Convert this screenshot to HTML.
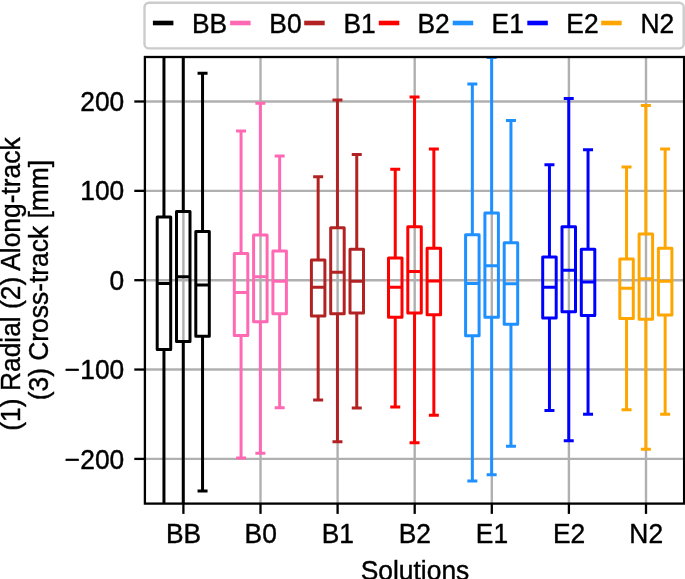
<!DOCTYPE html>
<html lang="en"><head><meta charset="utf-8"><title>Solutions boxplot</title>
<style>html,body{margin:0;padding:0;background:#fff}svg{display:block}text{font-family:"Liberation Sans",Arial,Helvetica,sans-serif;font-size:26.4px;fill:#000;stroke:#000;stroke-width:0.4px;stroke-linejoin:round}</style></head><body>
<svg width="685" height="579" viewBox="0 0 685 579">
<rect width="685" height="579" fill="#fff"/>
<defs><clipPath id="ax"><rect x="144.90" y="57.00" width="539.20" height="446.60"/></clipPath></defs>
<g stroke="#b0b0b0" stroke-width="2.4" fill="none">
<line x1="183.40" y1="57.00" x2="183.40" y2="503.60"/>
<line x1="260.50" y1="57.00" x2="260.50" y2="503.60"/>
<line x1="337.60" y1="57.00" x2="337.60" y2="503.60"/>
<line x1="414.70" y1="57.00" x2="414.70" y2="503.60"/>
<line x1="491.80" y1="57.00" x2="491.80" y2="503.60"/>
<line x1="568.90" y1="57.00" x2="568.90" y2="503.60"/>
<line x1="646.00" y1="57.00" x2="646.00" y2="503.60"/>
<line x1="144.90" y1="101.50" x2="684.10" y2="101.50"/>
<line x1="144.90" y1="190.85" x2="684.10" y2="190.85"/>
<line x1="144.90" y1="280.20" x2="684.10" y2="280.20"/>
<line x1="144.90" y1="369.55" x2="684.10" y2="369.55"/>
<line x1="144.90" y1="458.90" x2="684.10" y2="458.90"/>
</g>
<g clip-path="url(#ax)" fill="none" stroke-width="3.00" stroke-linejoin="round">
<g stroke="#000000">
<path d="M163.95 -40.00V216.90M163.95 349.60V620.00" />
<path stroke-linecap="square" d="M160.45 -40.00H167.45M160.45 620.00H167.45"/>
<rect x="157.20" y="216.90" width="13.50" height="132.70"/>
<path d="M157.20 283.40H170.70"/>
<path d="M183.25 -40.00V211.60M183.25 341.60V620.00" />
<path stroke-linecap="square" d="M179.75 -40.00H186.75M179.75 620.00H186.75"/>
<rect x="176.50" y="211.60" width="13.50" height="130.00"/>
<path d="M176.50 276.80H190.00"/>
<path d="M202.55 73.20V231.40M202.55 336.20V491.00" />
<path stroke-linecap="square" d="M199.05 73.20H206.05M199.05 491.00H206.05"/>
<rect x="195.80" y="231.40" width="13.50" height="104.80"/>
<path d="M195.80 285.00H209.30"/>
</g>
<g stroke="#ff69b4">
<path d="M241.05 131.00V253.60M241.05 335.40V458.00" />
<path stroke-linecap="square" d="M237.55 131.00H244.55M237.55 458.00H244.55"/>
<rect x="234.30" y="253.60" width="13.50" height="81.80"/>
<path d="M234.30 292.60H247.80"/>
<path d="M260.35 103.20V234.90M260.35 321.70V453.20" />
<path stroke-linecap="square" d="M256.85 103.20H263.85M256.85 453.20H263.85"/>
<rect x="253.60" y="234.90" width="13.50" height="86.80"/>
<path d="M253.60 276.80H267.10"/>
<path d="M279.65 156.00V250.90M279.65 313.80V407.80" />
<path stroke-linecap="square" d="M276.15 156.00H283.15M276.15 407.80H283.15"/>
<rect x="272.90" y="250.90" width="13.50" height="62.90"/>
<path d="M272.90 281.30H286.40"/>
</g>
<g stroke="#b22222">
<path d="M318.15 176.80V259.90M318.15 316.00V400.00" />
<path stroke-linecap="square" d="M314.65 176.80H321.65M314.65 400.00H321.65"/>
<rect x="311.40" y="259.90" width="13.50" height="56.10"/>
<path d="M311.40 287.30H324.90"/>
<path d="M337.45 100.00V227.80M337.45 313.80V441.80" />
<path stroke-linecap="square" d="M333.95 100.00H340.95M333.95 441.80H340.95"/>
<rect x="330.70" y="227.80" width="13.50" height="86.00"/>
<path d="M330.70 272.30H344.20"/>
<path d="M356.75 154.40V249.20M356.75 313.00V408.00" />
<path stroke-linecap="square" d="M353.25 154.40H360.25M353.25 408.00H360.25"/>
<rect x="350.00" y="249.20" width="13.50" height="63.80"/>
<path d="M350.00 281.20H363.50"/>
</g>
<g stroke="#ff0000">
<path d="M395.25 169.30V258.10M395.25 317.30V407.00" />
<path stroke-linecap="square" d="M391.75 169.30H398.75M391.75 407.00H398.75"/>
<rect x="388.50" y="258.10" width="13.50" height="59.20"/>
<path d="M388.50 287.20H402.00"/>
<path d="M414.55 97.00V226.80M414.55 313.00V442.80" />
<path stroke-linecap="square" d="M411.05 97.00H418.05M411.05 442.80H418.05"/>
<rect x="407.80" y="226.80" width="13.50" height="86.20"/>
<path d="M407.80 271.50H421.30"/>
<path d="M433.85 148.90V248.20M433.85 314.80V415.20" />
<path stroke-linecap="square" d="M430.35 148.90H437.35M430.35 415.20H437.35"/>
<rect x="427.10" y="248.20" width="13.50" height="66.60"/>
<path d="M427.10 281.00H440.60"/>
</g>
<g stroke="#1e90ff">
<path d="M472.35 84.10V234.80M472.35 335.80V481.00" />
<path stroke-linecap="square" d="M468.85 84.10H475.85M468.85 481.00H475.85"/>
<rect x="465.60" y="234.80" width="13.50" height="101.00"/>
<path d="M465.60 283.60H479.10"/>
<path d="M491.65 57.60V213.10M491.65 317.30V474.80" />
<path stroke-linecap="square" d="M488.15 57.60H495.15M488.15 474.80H495.15"/>
<rect x="484.90" y="213.10" width="13.50" height="104.20"/>
<path d="M484.90 265.80H498.40"/>
<path d="M510.95 120.60V242.70M510.95 324.20V446.30" />
<path stroke-linecap="square" d="M507.45 120.60H514.45M507.45 446.30H514.45"/>
<rect x="504.20" y="242.70" width="13.50" height="81.50"/>
<path d="M504.20 283.70H517.70"/>
</g>
<g stroke="#0000ff">
<path d="M549.45 164.80V257.10M549.45 318.00V410.50" />
<path stroke-linecap="square" d="M545.95 164.80H552.95M545.95 410.50H552.95"/>
<rect x="542.70" y="257.10" width="13.50" height="60.90"/>
<path d="M542.70 287.20H556.20"/>
<path d="M568.75 98.50V226.80M568.75 311.80V440.80" />
<path stroke-linecap="square" d="M565.25 98.50H572.25M565.25 440.80H572.25"/>
<rect x="562.00" y="226.80" width="13.50" height="85.00"/>
<path d="M562.00 270.30H575.50"/>
<path d="M588.05 149.70V249.20M588.05 315.50V414.20" />
<path stroke-linecap="square" d="M584.55 149.70H591.55M584.55 414.20H591.55"/>
<rect x="581.30" y="249.20" width="13.50" height="66.30"/>
<path d="M581.30 282.00H594.80"/>
</g>
<g stroke="#ffa500">
<path d="M626.55 166.90V259.10M626.55 318.50V409.70" />
<path stroke-linecap="square" d="M623.05 166.90H630.05M623.05 409.70H630.05"/>
<rect x="619.80" y="259.10" width="13.50" height="59.40"/>
<path d="M619.80 288.20H633.30"/>
<path d="M645.85 105.40V234.00M645.85 319.30V449.20" />
<path stroke-linecap="square" d="M642.35 105.40H649.35M642.35 449.20H649.35"/>
<rect x="639.10" y="234.00" width="13.50" height="85.30"/>
<path d="M639.10 278.70H652.60"/>
<path d="M665.15 148.90V248.20M665.15 315.00V414.20" />
<path stroke-linecap="square" d="M661.65 148.90H668.65M661.65 414.20H668.65"/>
<rect x="658.40" y="248.20" width="13.50" height="66.80"/>
<path d="M658.40 281.20H671.90"/>
</g>
</g>
<g stroke="#000" stroke-width="2.3" fill="none">
<line x1="183.40" y1="503.60" x2="183.40" y2="513.90"/>
<line x1="260.50" y1="503.60" x2="260.50" y2="513.90"/>
<line x1="337.60" y1="503.60" x2="337.60" y2="513.90"/>
<line x1="414.70" y1="503.60" x2="414.70" y2="513.90"/>
<line x1="491.80" y1="503.60" x2="491.80" y2="513.90"/>
<line x1="568.90" y1="503.60" x2="568.90" y2="513.90"/>
<line x1="646.00" y1="503.60" x2="646.00" y2="513.90"/>
<line x1="134.30" y1="101.50" x2="144.90" y2="101.50"/>
<line x1="134.30" y1="190.85" x2="144.90" y2="190.85"/>
<line x1="134.30" y1="280.20" x2="144.90" y2="280.20"/>
<line x1="134.30" y1="369.55" x2="144.90" y2="369.55"/>
<line x1="134.30" y1="458.90" x2="144.90" y2="458.90"/>
<rect x="144.90" y="57.00" width="539.20" height="446.60" stroke-linejoin="miter"/>
</g>
<text transform="translate(183.60 543.10) scale(1 1.035)" text-anchor="middle">BB</text>
<text transform="translate(260.70 543.10) scale(1 1.035)" text-anchor="middle">B0</text>
<text transform="translate(337.80 543.10) scale(1 1.035)" text-anchor="middle">B1</text>
<text transform="translate(414.90 543.10) scale(1 1.035)" text-anchor="middle">B2</text>
<text transform="translate(492.00 543.10) scale(1 1.035)" text-anchor="middle">E1</text>
<text transform="translate(569.10 543.10) scale(1 1.035)" text-anchor="middle">E2</text>
<text transform="translate(646.20 543.10) scale(1 1.035)" text-anchor="middle">N2</text>
<text transform="translate(124.30 111.10) scale(1 1.035)" text-anchor="end">200</text>
<text transform="translate(124.30 200.45) scale(1 1.035)" text-anchor="end">100</text>
<text transform="translate(124.30 289.80) scale(1 1.035)" text-anchor="end">0</text>
<text transform="translate(124.30 379.15) scale(1 1.035)" text-anchor="end">−100</text>
<text transform="translate(124.30 468.50) scale(1 1.035)" text-anchor="end">−200</text>
<text transform="translate(415.00 579.70) scale(1 1.035)" text-anchor="middle">Solutions</text>
<text transform="translate(20.40 284.00) rotate(-90) scale(1 1.035)" text-anchor="middle">(1) Radial (2) Along-track</text>
<text transform="translate(47.90 280.10) rotate(-90) scale(1 1.035)" text-anchor="middle">(3) Cross-track [mm]</text>
<rect x="144.5" y="2.7" width="539.2" height="45.7" rx="4.5" ry="4.5" fill="#fff" stroke="#cccccc" stroke-width="2.4"/>
<line x1="152.90" y1="23" x2="173.40" y2="23" stroke="#000000" stroke-width="4.6"/>
<text transform="translate(192.00 32.60) scale(1 1.035)" text-anchor="start">BB</text>
<line x1="230.10" y1="23" x2="250.60" y2="23" stroke="#ff69b4" stroke-width="4.6"/>
<text transform="translate(269.30 32.60) scale(1 1.035)" text-anchor="start">B0</text>
<line x1="304.20" y1="23" x2="324.70" y2="23" stroke="#b22222" stroke-width="4.6"/>
<text transform="translate(343.40 32.60) scale(1 1.035)" text-anchor="start">B1</text>
<line x1="378.80" y1="23" x2="399.30" y2="23" stroke="#ff0000" stroke-width="4.6"/>
<text transform="translate(417.50 32.60) scale(1 1.035)" text-anchor="start">B2</text>
<line x1="452.70" y1="23" x2="473.20" y2="23" stroke="#1e90ff" stroke-width="4.6"/>
<text transform="translate(491.60 32.60) scale(1 1.035)" text-anchor="start">E1</text>
<line x1="527.30" y1="23" x2="547.80" y2="23" stroke="#0000ff" stroke-width="4.6"/>
<text transform="translate(566.30 32.60) scale(1 1.035)" text-anchor="start">E2</text>
<line x1="601.20" y1="23" x2="621.70" y2="23" stroke="#ffa500" stroke-width="4.6"/>
<text transform="translate(640.50 32.60) scale(1 1.035)" text-anchor="start">N2</text>
</svg></body></html>
